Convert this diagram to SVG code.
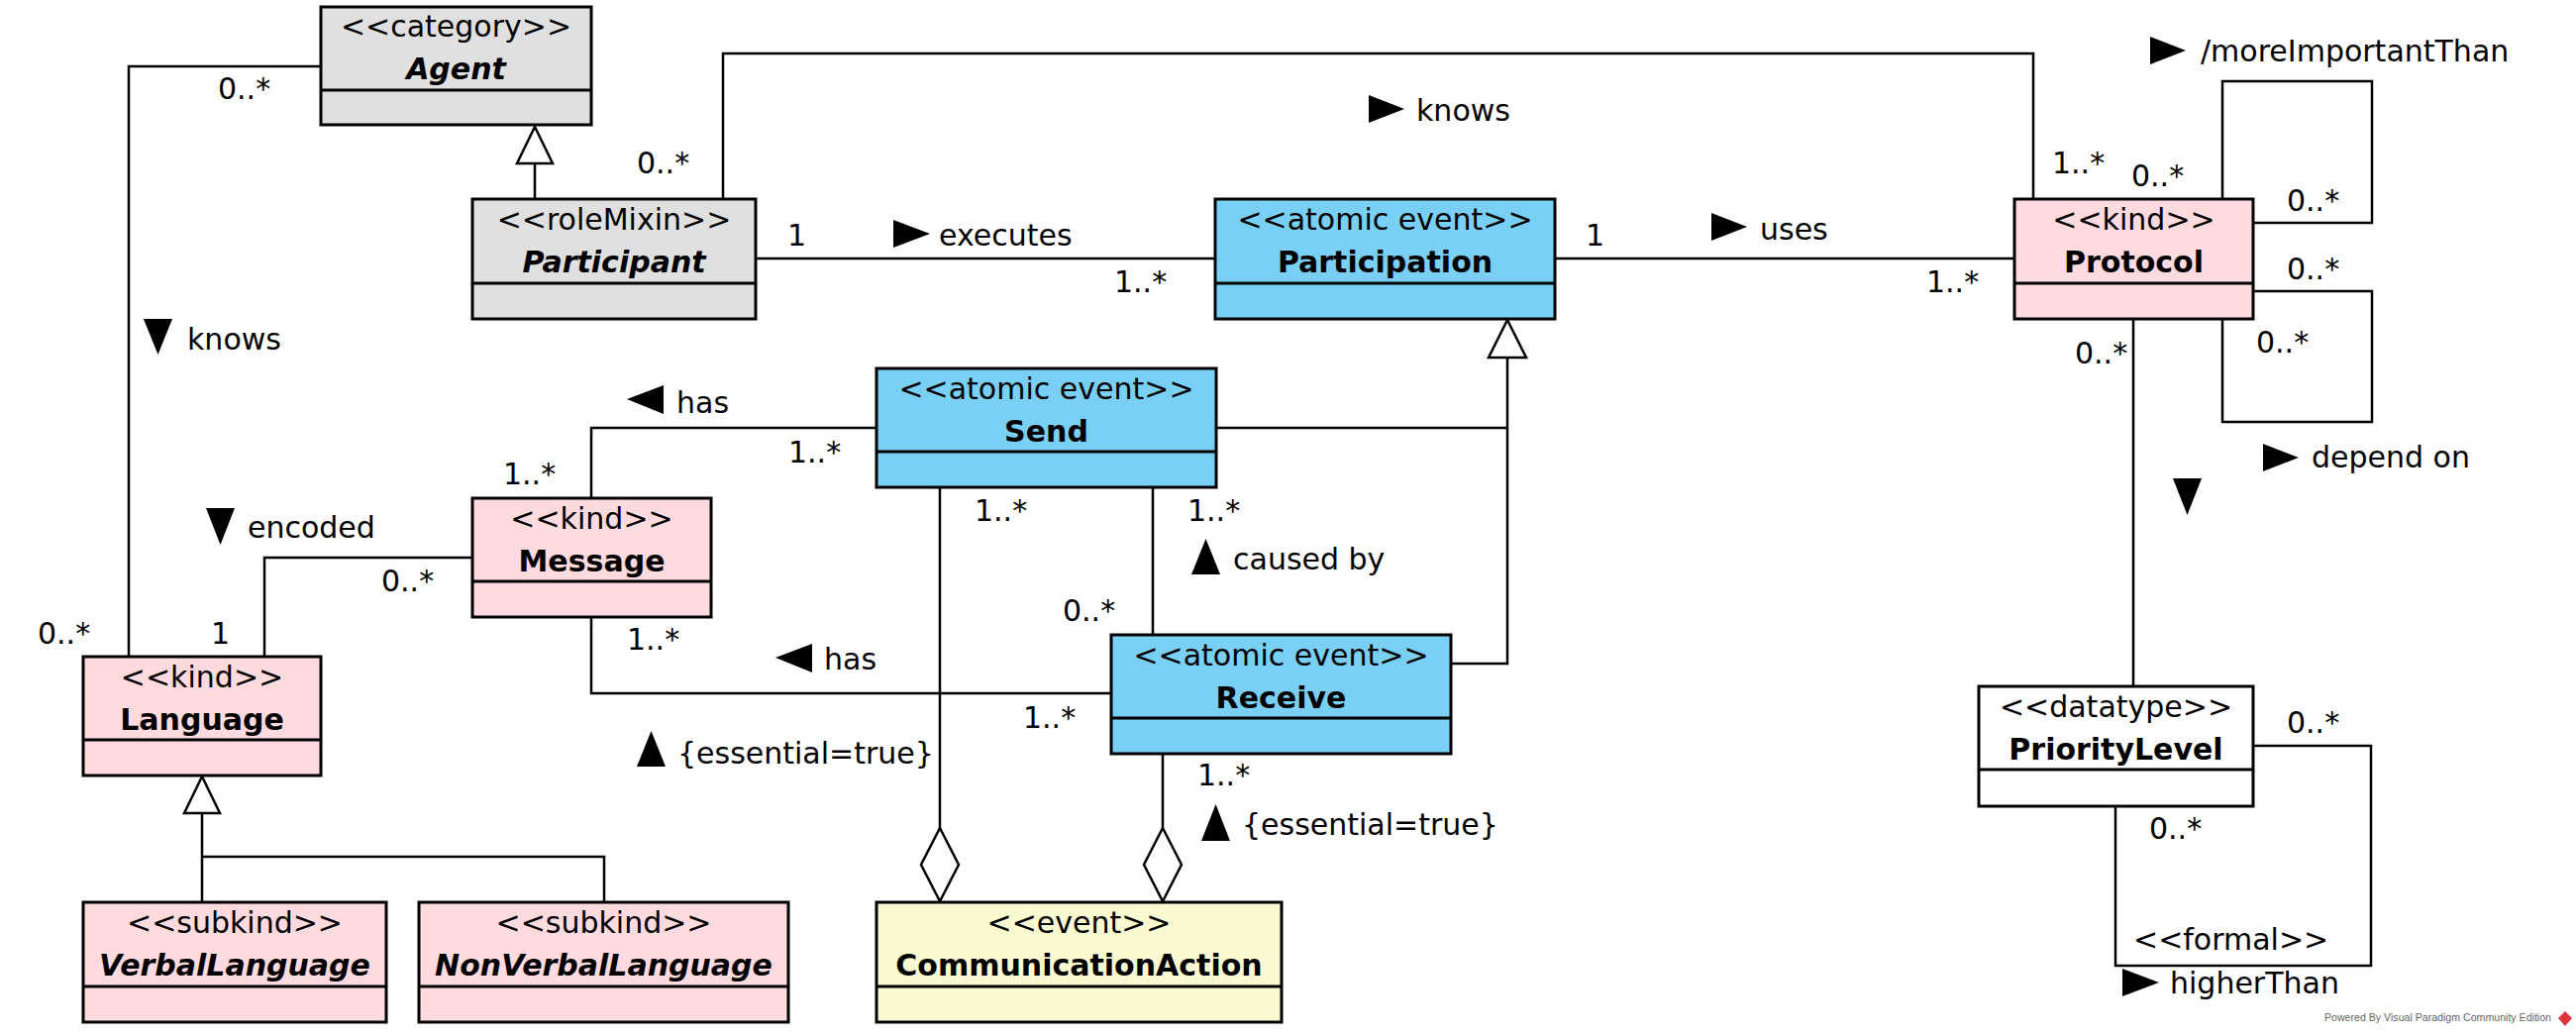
<svg xmlns="http://www.w3.org/2000/svg" width="2601" height="1044" viewBox="0 0 2601 1044">
<style>
.bg{fill:#fff}
.box{stroke:#000;stroke-width:3}
.grey{fill:#e0e0e0}
.blue{fill:#7acff5}
.pink{fill:#ffdadf}
.yellow{fill:#fafad2}
.white{fill:#fff}
.dv{stroke:#000;stroke-width:3}
text{font-family:"DejaVu Sans",sans-serif;font-size:30px;fill:#000}
.c{text-anchor:middle}
.nm{font-weight:bold}
.ab{font-weight:bold;font-style:italic}
.ln{fill:none;stroke:#000;stroke-width:2.5}
.gen{fill:#fff;stroke:#000;stroke-width:2.5}
.agg{fill:#fff;stroke:#000;stroke-width:2.5}
.dir{fill:#000}
.pw{font-family:"Liberation Sans",sans-serif;font-size:11px;fill:#666}
</style>
<rect class="bg" x="0" y="0" width="2601" height="1044"/>

<g id="connectors">
  <!-- Agent - Language knows -->
  <g id="c-agent-language">
    <polyline class="ln" points="324,67 130,67 130,663"/>
    <text x="220" y="100">0..*</text>
    <text x="38" y="650">0..*</text>
    <polygon class="dir" points="145,322 174,322 159.5,358"/>
    <text x="189" y="353">knows</text>
  </g>
  <!-- Participant -> Agent generalization -->
  <g id="c-participant-agent">
    <line class="ln" x1="540" y1="201" x2="540" y2="165"/>
    <polygon class="gen" points="540,128 558,165 522,165"/>
  </g>
  <!-- Participant - Protocol knows -->
  <g id="c-participant-protocol">
    <polyline class="ln" points="730,201 730,54 2053,54 2053,201"/>
    <text x="643" y="175">0..*</text>
    <text x="2072" y="175">1..*</text>
    <polygon class="dir" points="1382,96 1418,110 1382,124"/>
    <text x="1430" y="122">knows</text>
  </g>
  <!-- Participant - Participation executes -->
  <g id="c-executes">
    <line class="ln" x1="763" y1="261" x2="1227" y2="261"/>
    <text x="795" y="248">1</text>
    <polygon class="dir" points="902,222 939,236 902,250"/>
    <text x="948" y="248">executes</text>
    <text x="1125" y="295">1..*</text>
  </g>
  <!-- Participation - Protocol uses -->
  <g id="c-uses">
    <line class="ln" x1="1570" y1="261" x2="2034" y2="261"/>
    <text x="1601" y="248">1</text>
    <polygon class="dir" points="1728,215 1764,229 1728,243"/>
    <text x="1777" y="242">uses</text>
    <text x="1945" y="295">1..*</text>
  </g>
  <!-- Protocol self moreImportantThan -->
  <g id="c-moreimportant">
    <polyline class="ln" points="2244,201 2244,82 2395,82 2395,225 2275,225"/>
    <text x="2152" y="188">0..*</text>
    <text x="2309" y="213">0..*</text>
    <polygon class="dir" points="2171,37 2207,51 2171,65"/>
    <text x="2222" y="62">/moreImportantThan</text>
  </g>
  <!-- Protocol self depend on -->
  <g id="c-dependon">
    <polyline class="ln" points="2275,294 2395,294 2395,426 2244,426 2244,322"/>
    <text x="2309" y="282">0..*</text>
    <text x="2278" y="356">0..*</text>
    <polygon class="dir" points="2285,448 2321,462 2285,476"/>
    <text x="2334" y="472">depend on</text>
  </g>
  <!-- Protocol - PriorityLevel -->
  <g id="c-protocol-priority">
    <line class="ln" x1="2154" y1="322" x2="2154" y2="693"/>
    <text x="2095" y="367">0..*</text>
    <polygon class="dir" points="2194,483 2223,483 2208.5,520"/>
  </g>
  <!-- PriorityLevel self higherThan -->
  <g id="c-higherthan">
    <polyline class="ln" points="2275,753 2394,753 2394,975 2136,975 2136,814"/>
    <text x="2309" y="740">0..*</text>
    <text x="2170" y="847">0..*</text>
    <text x="2154" y="959">&lt;&lt;formal&gt;&gt;</text>
    <polygon class="dir" points="2143,978 2180,992 2143,1006"/>
    <text x="2191" y="1003">higherThan</text>
  </g>
  <!-- Send, Receive -> Participation generalization -->
  <g id="c-events-participation">
    <polyline class="ln" points="1228,432 1522,432"/>
    <polyline class="ln" points="1465,670 1522,670 1522,361"/>
    <polygon class="gen" points="1522,323 1541,361 1503,361"/>
  </g>
  <!-- Message - Send has -->
  <g id="c-message-send">
    <polyline class="ln" points="885,432 597,432 597,503"/>
    <text x="796" y="467">1..*</text>
    <text x="508" y="489">1..*</text>
    <polygon class="dir" points="670,389 633,403 670,418"/>
    <text x="683" y="417">has</text>
  </g>
  <!-- Message - Receive has -->
  <g id="c-message-receive">
    <polyline class="ln" points="597,623 597,700 1122,700"/>
    <text x="633" y="656">1..*</text>
    <text x="1033" y="735">1..*</text>
    <polygon class="dir" points="820,650 783,664 820,679"/>
    <text x="832" y="676">has</text>
  </g>
  <!-- Message - Language encoded -->
  <g id="c-encoded">
    <polyline class="ln" points="477,563 267,563 267,663"/>
    <text x="385" y="597">0..*</text>
    <text x="213" y="650">1</text>
    <polygon class="dir" points="208,513 237,513 222.5,550"/>
    <text x="250" y="543">encoded</text>
  </g>
  <!-- Language generalization -->
  <g id="c-language-gen">
    <polyline class="ln" points="204,911 204,821"/>
    <polyline class="ln" points="204,865 610,865 610,911"/>
    <polygon class="gen" points="204,784 222,821 186,821"/>
  </g>
  <!-- Send - Receive caused by -->
  <g id="c-causedby">
    <line class="ln" x1="1164" y1="493" x2="1164" y2="641"/>
    <text x="1199" y="526">1..*</text>
    <text x="1073" y="627">0..*</text>
    <polygon class="dir" points="1203,580 1232,580 1217.5,544"/>
    <text x="1245" y="575">caused by</text>
  </g>
  <!-- Send - CommunicationAction aggregation -->
  <g id="c-send-comm">
    <line class="ln" x1="949" y1="493" x2="949" y2="836"/>
    <polygon class="agg" points="949,836 968,873 949,910 930,873"/>
    <text x="984" y="526">1..*</text>
    <polygon class="dir" points="643,774 672,774 657.5,738"/>
    <text x="684" y="771">{essential=true}</text>
  </g>
  <!-- Receive - CommunicationAction aggregation -->
  <g id="c-receive-comm">
    <line class="ln" x1="1174" y1="761" x2="1174" y2="836"/>
    <polygon class="agg" points="1174,836 1193,873 1174,910 1155,873"/>
    <text x="1209" y="793">1..*</text>
    <polygon class="dir" points="1213,849 1242,849 1227.5,812"/>
    <text x="1254" y="843">{essential=true}</text>
  </g>
</g>

<g id="agent">
  <rect class="box grey" x="324" y="7" width="273" height="119"/>
  <line class="dv" x1="324" y1="91" x2="597" y2="91"/>
  <text class="c" x="460.5" y="37">&lt;&lt;category&gt;&gt;</text>
  <text class="c ab" x="460.5" y="80">Agent</text>
</g>
<g id="participant">
  <rect class="box grey" x="477" y="201" width="286" height="121"/>
  <line class="dv" x1="477" y1="286" x2="763" y2="286"/>
  <text class="c" x="620" y="232">&lt;&lt;roleMixin&gt;&gt;</text>
  <text class="c ab" x="620" y="275">Participant</text>
</g>
<g id="participation">
  <rect class="box blue" x="1227" y="201" width="343" height="121"/>
  <line class="dv" x1="1227" y1="286" x2="1570" y2="286"/>
  <text class="c" x="1398.5" y="232">&lt;&lt;atomic event&gt;&gt;</text>
  <text class="c nm" x="1398.5" y="275">Participation</text>
</g>
<g id="protocol">
  <rect class="box pink" x="2034" y="201" width="241" height="121"/>
  <line class="dv" x1="2034" y1="286" x2="2275" y2="286"/>
  <text class="c" x="2154.5" y="232">&lt;&lt;kind&gt;&gt;</text>
  <text class="c nm" x="2154.5" y="275">Protocol</text>
</g>
<g id="send">
  <rect class="box blue" x="885" y="372" width="343" height="120"/>
  <line class="dv" x1="885" y1="456" x2="1228" y2="456"/>
  <text class="c" x="1056.5" y="403">&lt;&lt;atomic event&gt;&gt;</text>
  <text class="c nm" x="1056.5" y="446">Send</text>
</g>
<g id="receive">
  <rect class="box blue" x="1122" y="641" width="343" height="120"/>
  <line class="dv" x1="1122" y1="725" x2="1465" y2="725"/>
  <text class="c" x="1293.5" y="672">&lt;&lt;atomic event&gt;&gt;</text>
  <text class="c nm" x="1293.5" y="715">Receive</text>
</g>
<g id="message">
  <rect class="box pink" x="477" y="503" width="241" height="120"/>
  <line class="dv" x1="477" y1="587" x2="718" y2="587"/>
  <text class="c" x="597.5" y="534">&lt;&lt;kind&gt;&gt;</text>
  <text class="c nm" x="597.5" y="577">Message</text>
</g>
<g id="language">
  <rect class="box pink" x="84" y="663" width="240" height="120"/>
  <line class="dv" x1="84" y1="747" x2="324" y2="747"/>
  <text class="c" x="204" y="694">&lt;&lt;kind&gt;&gt;</text>
  <text class="c nm" x="204" y="737">Language</text>
</g>
<g id="verballanguage">
  <rect class="box pink" x="84" y="911" width="306" height="121"/>
  <line class="dv" x1="84" y1="996" x2="390" y2="996"/>
  <text class="c" x="237" y="942">&lt;&lt;subkind&gt;&gt;</text>
  <text class="c ab" x="237" y="985">VerbalLanguage</text>
</g>
<g id="nonverballanguage">
  <rect class="box pink" x="423" y="911" width="373" height="121"/>
  <line class="dv" x1="423" y1="996" x2="796" y2="996"/>
  <text class="c" x="609.5" y="942">&lt;&lt;subkind&gt;&gt;</text>
  <text class="c ab" x="609.5" y="985">NonVerbalLanguage</text>
</g>
<g id="communicationaction">
  <rect class="box yellow" x="885" y="911" width="409" height="121"/>
  <line class="dv" x1="885" y1="996" x2="1294" y2="996"/>
  <text class="c" x="1089.5" y="942">&lt;&lt;event&gt;&gt;</text>
  <text class="c nm" x="1089.5" y="985">CommunicationAction</text>
</g>
<g id="prioritylevel">
  <rect class="box white" x="1998" y="693" width="277" height="121"/>
  <line class="dv" x1="1998" y1="777" x2="2275" y2="777"/>
  <text class="c" x="2136.5" y="724">&lt;&lt;datatype&gt;&gt;</text>
  <text class="c nm" x="2136.5" y="767">PriorityLevel</text>
</g>

<g id="watermark">
  <text class="pw" x="2347" y="1031" textLength="229" lengthAdjust="spacingAndGlyphs">Powered By Visual Paradigm Community Edition</text>
  <polygon points="2590,1021 2597,1028 2590,1036 2583,1028" fill="#d9363e"/>
</g>
</svg>
